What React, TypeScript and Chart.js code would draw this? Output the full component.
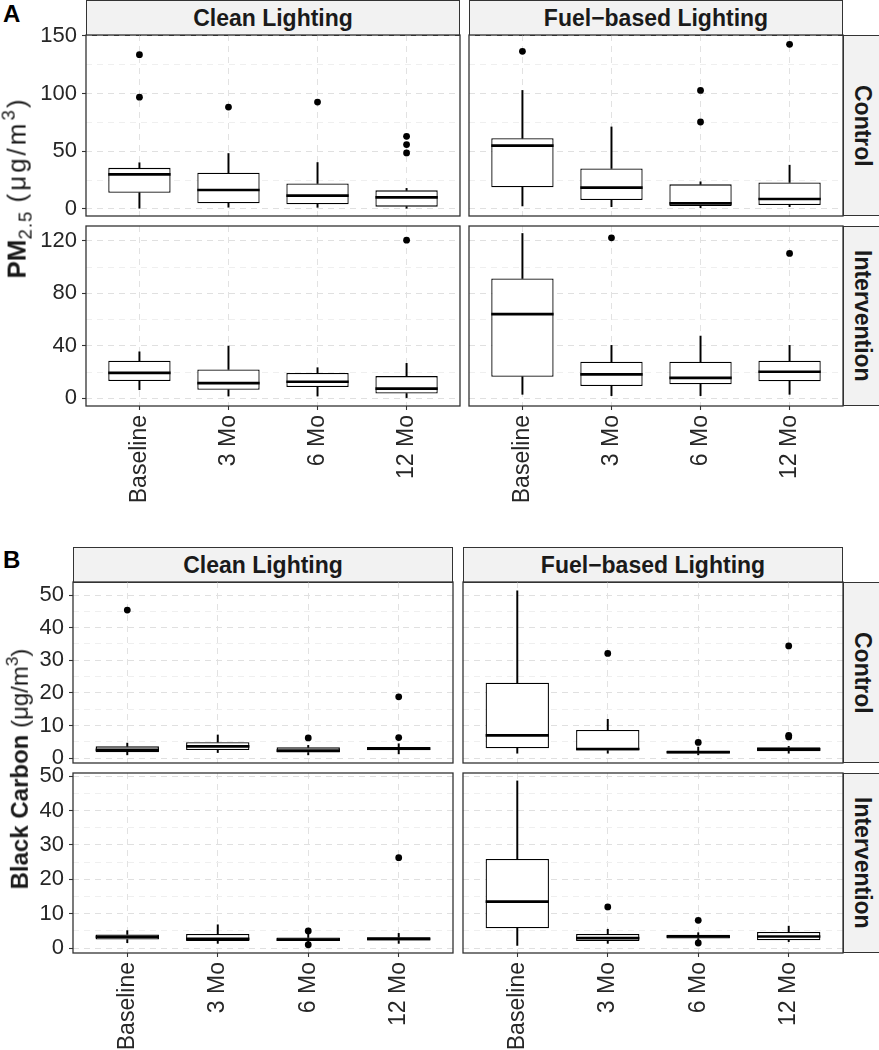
import React, { useEffect, useRef } from 'react';
import { Chart, registerables } from 'chart.js';

Chart.register(...registerables);

const FONT = "'Liberation Sans', Arial, Helvetica, sans-serif";

const categories = ['Baseline', '3 Mo', '6 Mo', '12 Mo'];
const categoryPositions = [1, 2, 3, 4];

// Box statistics per category: [lower whisker, Q1, median, Q3, upper whisker]
const pmCleanControl = [[0.6, 14, 30, 35.6, 40], [1.5, 4.9, 16.4, 31.3, 48], [1.4, 4, 11.5, 22.1, 40.2], [0.6, 2, 10.1, 16.1, 17.8]];
const pmCleanControlOutliers = [[133.6, 96.8], [88.2], [92.5], [62.9, 55.7, 48.5]];
const pmFuelControl = [[2.6, 18.7, 54.9, 61.2, 102.6], [2, 7.8, 18.4, 35.1, 71], [1.1, 2.6, 4.9, 21.3, 23.5], [2, 3.4, 8.6, 23, 37.9]];
const pmFuelControlOutliers = [[136.5], [], [102.6, 75.3], [142.5]];
const pmCleanIntervention = [[6.5, 13.1, 19.4, 28.6, 35.4], [1.7, 6.5, 11.6, 22, 39.8], [1.7, 8.5, 12.6, 19.2, 23.3], [0.5, 3.6, 7.3, 16.9, 26.6]];
const pmCleanInterventionOutliers = [[], [], [], [120.5]];
const pmFuelIntervention = [[3, 16.4, 64.2, 91.3, 125.6], [2, 9.3, 18.2, 27.8, 40.3], [2, 10.6, 15.6, 27.8, 47.4], [3, 12.9, 20.2, 28.6, 40.3]];
const pmFuelInterventionOutliers = [[], [122.3], [], [110.4]];

const bcCleanControl = [[1, 1.8, 2.5, 3.6, 4.6], [1.7, 2.5, 3.6, 4.9, 7.1], [1, 1.7, 2.3, 3.3, 3.9], [1.3, 2.4, 2.9, 3.4, 4.4]];
const bcCleanControlOutliers = [[45.4], [], [6.2], [18.8, 6.3]];
const bcFuelControl = [[1.5, 3, 7, 23.1, 51.3], [1.5, 2.3, 2.8, 8.6, 11.9], [1, 1.4, 1.8, 2.3, 3.4], [1.5, 2.1, 2.7, 3.3, 3.6]];
const bcFuelControlOutliers = [[], [32.1], [4.8], [34.4, 7, 6.5]];
const bcCleanIntervention = [[1.6, 2.5, 3.3, 4, 5.1], [1.4, 2.1, 2.7, 4.1, 6.8], [1.5, 2.1, 2.5, 3.1, 4.1], [1.4, 2.2, 2.7, 3.2, 4.3]];
const bcCleanInterventionOutliers = [[], [], [5, 1], [26.3]];
const bcFuelIntervention = [[0.8, 5.8, 13.5, 25.9, 48.6], [1.4, 2.1, 2.9, 4.1, 5.5], [2.2, 2.8, 3.4, 3.9, 4.5], [1.9, 2.3, 3.4, 4.7, 6.4]];
const bcFuelInterventionOutliers = [[], [12], [8.1, 1.5], []];

// Axis ticks and limits
const pmTopMajor = [0, 50, 100, 150];
const pmTopMinor = [25, 75, 125];
const pmTopLimits = [-6.1, 150.6];
const pmBottomMajor = [0, 40, 80, 120];
const pmBottomMinor = [20, 60, 100];
const pmBottomLimits = [-5.9, 131.3];
const bcMajor = [0, 10, 20, 30, 40, 50];
const bcMinor = [5, 15, 25, 35, 45];
const bcTopLimits = [-1.5, 54.0];
const bcBottomLimits = [-1.4, 50.9];

const BOX_WIDTH = 0.7;

type Spec = {
  box: number[][];
  out: number[][];
  major: number[];
  minor: number[];
  limits: number[];
  left: number;
  top: number;
  w: number;
  h: number;
  showY: boolean;
  showX: boolean;
};

const facets: Spec[] = [
  { box: pmCleanControl, out: pmCleanControlOutliers, major: pmTopMajor, minor: pmTopMinor, limits: pmTopLimits, left: 86, top: 35, w: 374, h: 181, showY: true, showX: false },
  { box: pmFuelControl, out: pmFuelControlOutliers, major: pmTopMajor, minor: pmTopMinor, limits: pmTopLimits, left: 469, top: 35, w: 374, h: 181, showY: false, showX: false },
  { box: pmCleanIntervention, out: pmCleanInterventionOutliers, major: pmBottomMajor, minor: pmBottomMinor, limits: pmBottomLimits, left: 86, top: 226, w: 374, h: 180, showY: true, showX: true },
  { box: pmFuelIntervention, out: pmFuelInterventionOutliers, major: pmBottomMajor, minor: pmBottomMinor, limits: pmBottomLimits, left: 469, top: 226, w: 374, h: 180, showY: false, showX: true },
  { box: bcCleanControl, out: bcCleanControlOutliers, major: bcMajor, minor: bcMinor, limits: bcTopLimits, left: 73, top: 582, w: 380, h: 181, showY: true, showX: false },
  { box: bcFuelControl, out: bcFuelControlOutliers, major: bcMajor, minor: bcMinor, limits: bcTopLimits, left: 463, top: 582, w: 380, h: 181, showY: false, showX: false },
  { box: bcCleanIntervention, out: bcCleanInterventionOutliers, major: bcMajor, minor: bcMinor, limits: bcBottomLimits, left: 73, top: 773, w: 380, h: 180, showY: true, showX: true },
  { box: bcFuelIntervention, out: bcFuelInterventionOutliers, major: bcMajor, minor: bcMinor, limits: bcBottomLimits, left: 463, top: 773, w: 380, h: 180, showY: false, showX: true },
];

const framePlugin = {
  id: 'panelFrame',
  afterDraw(chart: any) {
    const { ctx, chartArea: a } = chart;
    ctx.save();
    ctx.strokeStyle = '#333333';
    ctx.lineWidth = 1.3;
    ctx.strokeRect(a.left, a.top, a.right - a.left, a.bottom - a.top);
    ctx.restore();
  },
};

function Facet({ spec }: { spec: Spec }) {
  const ref = useRef<HTMLCanvasElement>(null);
  const L = spec.showY ? 80 : 10;
  const T = 14;
  const R = 6;
  const B = spec.showX ? 110 : 6;
  const cw = L + spec.w + R;
  const ch = T + spec.h + B;

  useEffect(() => {
    const canvas = ref.current;
    if (!canvas) return;
    const { box, out, major, minor, limits, showX, showY } = spec;
    const isMajor = (v: number) => major.includes(v);
    const halfBox = (chart: any) => {
      const x = chart.scales && chart.scales.x;
      if (!x) return 30;
      return Math.abs(x.getPixelForValue(1 + BOX_WIDTH / 2) - x.getPixelForValue(1));
    };
    const whiskerStyle = {
      backgroundColor: '#000000',
      borderWidth: 0,
      barThickness: 1.3,
      grouped: false,
      order: 3,
    };
    const chart = new Chart(canvas, {
      type: 'bar',
      data: {
        datasets: [
          {
            type: 'bar',
            label: 'lower whisker',
            data: categoryPositions.map((x, i) => ({ x, y: [box[i][0], box[i][1]] })),
            ...whiskerStyle,
          },
          {
            type: 'bar',
            label: 'upper whisker',
            data: categoryPositions.map((x, i) => ({ x, y: [box[i][3], box[i][4]] })),
            ...whiskerStyle,
          },
          {
            type: 'bar',
            label: 'box',
            data: categoryPositions.map((x, i) => ({ x, y: [box[i][1], box[i][3]] })),
            backgroundColor: '#ffffff',
            borderColor: '#000000',
            borderWidth: 1.3,
            borderSkipped: false,
            barPercentage: BOX_WIDTH,
            categoryPercentage: 1,
            grouped: false,
            order: 2,
          },
          {
            type: 'scatter',
            label: 'outliers',
            data: out.flatMap((vals, i) => vals.map((v) => ({ x: categoryPositions[i], y: v }))),
            pointRadius: 3.4,
            pointBackgroundColor: '#000000',
            pointBorderWidth: 0,
            order: 1,
          },
          {
            type: 'scatter',
            label: 'median',
            data: categoryPositions.map((x, i) => ({ x, y: box[i][2] })),
            pointStyle: 'line',
            pointRadius: (c: any) => halfBox(c.chart),
            pointBorderColor: '#000000',
            pointBorderWidth: 2.7,
            order: 0,
          },
        ] as any,
      },
      options: {
        responsive: false,
        animation: false,
        devicePixelRatio: 1,
        events: [],
        layout: { padding: { left: 0, top: T, right: R, bottom: 0 } },
        plugins: { legend: { display: false }, tooltip: { enabled: false } },
        scales: {
          x: {
            type: 'linear',
            min: 0.4,
            max: 4.6,
            offset: false,
            afterBuildTicks: (s: any) => {
              s.ticks = categoryPositions.map((v) => ({ value: v }));
            },
            afterFit: (s: any) => {
              s.height = B;
              s.paddingLeft = 0;
              s.paddingRight = 0;
            },
            grid: {
              offset: false,
              color: '#e2e2e2',
              lineWidth: 1,
              drawTicks: showX,
              tickLength: 4,
              tickColor: '#333333',
              tickWidth: 1.1,
            },
            border: { display: false, dash: [6, 5] },
            ticks: {
              display: showX,
              autoSkip: false,
              minRotation: 90,
              maxRotation: 90,
              padding: 5,
              color: '#262626',
              font: { size: 23, family: FONT },
              callback: (v: any) => {
                const idx = categoryPositions.indexOf(Number(v));
                return idx >= 0 ? categories[idx] : '';
              },
            },
          },
          y: {
            type: 'linear',
            min: limits[0],
            max: limits[1],
            afterBuildTicks: (s: any) => {
              s.ticks = [...major, ...minor].sort((a, b) => a - b).map((v) => ({ value: v }));
            },
            afterFit: (s: any) => {
              s.width = L;
              s.paddingTop = 0;
              s.paddingBottom = 0;
            },
            grid: {
              color: (c: any) => (c.tick && isMajor(c.tick.value) ? '#e0e0e0' : '#efefef'),
              lineWidth: 1,
              drawTicks: showY,
              tickLength: 4,
              tickColor: (c: any) => (c.tick && isMajor(c.tick.value) ? '#333333' : 'rgba(0,0,0,0)'),
              tickWidth: 1.1,
            },
            border: { display: false, dash: [6, 5] },
            ticks: {
              display: showY,
              autoSkip: false,
              padding: 5,
              color: '#262626',
              font: { size: 22, family: FONT },
              callback: (v: any) => (isMajor(Number(v)) ? String(v) : ''),
            },
          },
        },
      } as any,
      plugins: [framePlugin],
    });
    return () => chart.destroy();
  }, []);

  return (
    <canvas
      ref={ref}
      width={cw}
      height={ch}
      style={{ position: 'absolute', left: spec.left - L, top: spec.top - T, width: cw, height: ch }}
    />
  );
}

const stripBase: React.CSSProperties = {
  position: 'absolute',
  background: '#f2f2f2',
  border: '1px solid #333333',
  boxSizing: 'border-box',
  display: 'flex',
  alignItems: 'center',
  justifyContent: 'center',
  fontWeight: 'bold',
  fontSize: 23,
  color: '#1a1a1a',
  fontFamily: FONT,
  whiteSpace: 'nowrap',
};

function TopStrip({ left, top, width, text }: { left: number; top: number; width: number; text: string }) {
  return <div style={{ ...stripBase, left, top, width, height: 36 }}>{text}</div>;
}

function SideStrip({ top, height, text }: { top: number; height: number; text: string }) {
  return (
    <div style={{ ...stripBase, left: 843, top, width: 38, height }}>
      <span style={{ writingMode: 'vertical-rl' }}>{text}</span>
    </div>
  );
}

export default function App() {
  const titleStyle: React.CSSProperties = {
    position: 'absolute',
    transform: 'translate(-50%, -50%) rotate(-90deg)',
    whiteSpace: 'nowrap',
    fontSize: 24,
    fontFamily: FONT,
    color: '#1a1a1a',
    lineHeight: '28px',
  };
  const tagStyle: React.CSSProperties = {
    position: 'absolute',
    left: 3,
    fontSize: 24,
    lineHeight: '24px',
    fontWeight: 'bold',
    fontFamily: FONT,
    color: '#000000',
  };
  return (
    <div style={{ position: 'absolute', left: 0, top: 0, width: 879, height: 1050, overflow: 'hidden', background: '#ffffff' }}>
      <div style={{ ...tagStyle, top: 2 }}>A</div>
      <div style={{ ...tagStyle, top: 548 }}>B</div>

      <TopStrip left={86} top={0} width={374} text="Clean Lighting" />
      <TopStrip left={469} top={0} width={374} text="Fuel−based Lighting" />
      <TopStrip left={73} top={547} width={380} text="Clean Lighting" />
      <TopStrip left={463} top={547} width={380} text="Fuel−based Lighting" />

      <SideStrip top={35} height={181} text="Control" />
      <SideStrip top={226} height={180} text="Intervention" />
      <SideStrip top={582} height={181} text="Control" />
      <SideStrip top={773} height={180} text="Intervention" />

      {facets.map((f, i) => (
        <Facet key={i} spec={f} />
      ))}

      <div style={{ ...titleStyle, left: 17, top: 189, fontSize: 26 }}>
        <b>PM</b>
        <span style={{ fontSize: '0.72em', verticalAlign: '-0.3em', letterSpacing: 1 }}>2.5</span>
        <span style={{ letterSpacing: 3, marginLeft: 8 }}>(μg/m</span>
        <span style={{ fontSize: '0.72em', verticalAlign: '0.6em' }}>3</span>
        <span style={{ marginLeft: 2 }}>)</span>
      </div>
      <div style={{ ...titleStyle, left: 16, top: 769 }}>
        <b>Black Carbon</b>
        <span> (μg/m</span>
        <span style={{ fontSize: '0.72em', verticalAlign: '0.6em' }}>3</span>
        <span>)</span>
      </div>
    </div>
  );
}
